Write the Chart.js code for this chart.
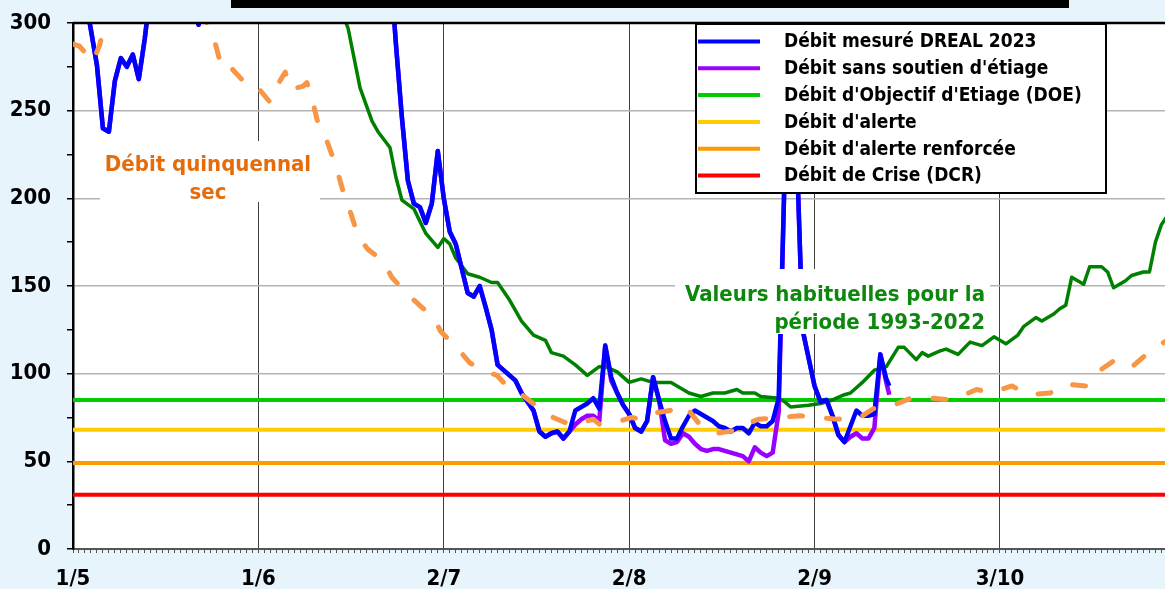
<!DOCTYPE html>
<html lang="fr">
<head>
<meta charset="utf-8">
<title>Débits d'étiage 2023</title>
<script src="https://cdn.jsdelivr.net/npm/chart.js@4.4.1/dist/chart.umd.min.js"></script>
<style>
  html, body { margin: 0; padding: 0; background: #e8f4fc; }
  #graphique { display: block; }
</style>
</head>
<body>
<canvas id="graphique" width="1165" height="589"></canvas>
<script>
// axe des x : jours comptés depuis le 1er mai
const etiquettesMois = ['1/5', '1/6', '2/7', '2/8', '2/9', '3/10'];
const joursMois = [0, 31, 62, 93, 124, 155];

// seuils réglementaires (m3/s)
const seuilDOE = 85;
const seuilAlerte = 68;
const seuilAlerteRenforcee = 49;
const seuilCrise = 31;

// débit mesuré DREAL 2023 et débit reconstitué sans soutien d'étiage
const joursMesure = [0, 1, 2, 3, 4, 5, 6, 7, 8, 9, 10, 11, 12, 13, 16, 19, 21, 23, 28, 35, 42, 48, 52, 53,
  54, 55, 56, 57, 58, 59, 60, 61, 62, 63, 64, 65, 66, 67, 68, 69, 70, 71, 72, 73, 74, 75, 76, 77, 78, 79,
  80, 81, 82, 83, 84, 85, 86, 87, 88, 89, 90, 91, 92, 93, 94, 95, 96, 97, 98, 99, 100, 101, 102, 103, 104,
  105, 106, 107, 108, 109, 110, 111, 112, 113, 114, 115, 116, 117, 118, 119, 120, 121, 122, 123, 124, 125,
  126, 127, 128, 129, 130, 131, 132, 133, 134, 135, 136, 136.5];
const debitMesure = [345, 330, 315, 296, 276, 240, 238, 267, 280, 275, 282, 268, 291, 320, 345, 318, 299, 335, 380, 420, 400, 370, 350, 335,
  288, 246, 210, 197, 195, 186, 197, 227, 200, 181, 174, 160, 146, 144, 150, 138, 125, 105, 102, 99, 96, 89, 84, 79, 67, 64,
  66, 67, 63, 67, 79, 81, 83, 86, 80, 116, 98, 89, 82, 77, 69, 67, 73, 98, 85, 73, 63, 63, 70, 76, 79,
  77, 75, 73, 70, 69, 67, 69, 69, 66, 72, 70, 70, 73, 86, 215, 280, 230, 125, 109, 93, 84,
  85, 76, 65, 61, 70, 79, 76, 76, 77, 111, 97, 93];
const debitSansSoutien = [345, 330, 315, 296, 276, 240, 238, 267, 280, 275, 282, 268, 291, 320, 345, 318, 299, 335, 380, 420, 400, 370, 350, 335,
  288, 246, 210, 197, 195, 186, 197, 227, 200, 181, 174, 160, 146, 144, 150, 138, 125, 105, 102, 99, 96, 89, 84, 79, 67, 64,
  66, 67, 63, 67, 71, 74, 76, 76, 73, 116, 96, 89, 82, 77, 69, 67, 73, 98, 85, 62, 60, 61, 66, 64, 60,
  57, 56, 57, 57, 56, 55, 54, 53, 50, 58, 55, 53, 55, 78, 215, 280, 230, 125, 109, 93, 84,
  85, 76, 65, 61, 64, 66, 63, 63, 69, 111, 95, 88];

// valeurs habituelles (période 1993-2022)
const joursMediane = [0, 10, 20, 30, 40, 44, 46, 48, 50, 51, 53, 54, 55, 57, 58, 59, 61, 62, 63, 64, 66, 68, 70, 71,
  73, 75, 77, 79, 80, 82, 84, 86, 88, 89, 91, 93, 95, 97, 100, 101, 103, 105, 107, 109, 110, 111, 112, 114,
  115, 118, 119, 120, 123, 125, 127, 129, 130, 132, 134, 136, 138, 139, 141, 142, 143, 145, 146, 148, 150,
  152, 154, 156, 158, 159, 161, 162, 164, 165, 166, 167, 169, 170, 172, 173, 174, 176, 177, 179, 180, 181, 182, 183];
const debitMediane = [520, 480, 430, 390, 340, 315, 297, 263, 244, 238, 229, 212, 199, 194, 187, 180, 172, 177, 174, 166, 157, 155, 152, 152,
  142, 130, 122, 119, 112, 110, 105, 99, 104, 104, 101, 95, 97, 95, 95, 93, 89, 87, 89, 89, 90, 91, 89, 89,
  87, 86, 84, 81, 82, 83, 85, 88, 89, 95, 102, 104, 115, 115, 108, 112, 110, 113, 114, 111, 118,
  116, 121, 117, 122, 127, 132, 130, 134, 137, 139, 155, 151, 161, 161, 158, 149, 153, 156, 158, 158, 175, 185, 190];

// débit quinquennal sec
const joursQuinquennal = [0, 1, 3.4, 4.5, 6, 10, 15, 20, 22.4, 23.5, 24.6, 25.4, 26, 27.9, 29, 30.7, 32.9, 34.6, 35.5,
  36.3, 38.5, 39.1, 39.9, 40.8, 41.3, 42.1, 43.5, 44.5, 45.5, 46.5, 47.7, 49.3, 51.9, 53.3, 56, 58.3, 60.3,
  61.5, 64.4, 66.4, 69.2, 70.9, 72, 74.7, 77.3, 80.3, 83.1, 85, 87, 88.1, 89.8, 91.5, 93.4, 94.8, 96.2, 99.8,
  102.3, 104.8, 107.6, 109.5, 111.5, 113.2, 114.6, 118.2, 121.5, 124.9, 127.7, 131.6, 133.8, 137.2, 140.1,
  143.9, 147, 151.1, 153.5, 157, 159.7, 163.4, 166, 169.4, 170.9, 173.9, 176.8, 179.5, 182, 183];
const debitQuinquennal = [288, 287, 278, 288, 310, 330, 335, 315, 300, 292, 278, 274, 276, 269, 265, 264, 255, 267, 272,
  262, 264, 266, 258, 245, 240, 236, 223, 212, 200, 191, 178, 171, 164, 155, 145, 138, 132,
  124, 114, 106, 101, 99, 95, 89, 82, 75, 71, 72, 74, 71, 72, 73, 75, 74, 77, 79,
  82, 71, 66, 67, 68, 72, 74, 75, 76, 75, 74, 75, 80, 82, 86,
  86, 85, 91, 89, 93, 88, 89, 94, 93, 100, 107, 103, 111, 117, 119];

const police = "'DejaVu Sans Condensed', 'DejaVu Sans', sans-serif";
Chart.defaults.font.family = police;

function points(jours, valeurs) {
    return jours.map((j, i) => ({ x: j, y: valeurs[i] }));
}
function seuil(valeur) {
    return [{ x: 0, y: valeur }, { x: 183, y: valeur }];
}

// fond bleu clair et zone de tracé blanche
const fond = {
    id: 'fond',
    beforeDraw(chart) {
        const ctx = chart.ctx;
        const zone = chart.chartArea;
        ctx.save();
        ctx.fillStyle = '#e8f4fc';
        ctx.fillRect(0, 0, chart.width, chart.height);
        ctx.fillStyle = '#ffffff';
        ctx.fillRect(zone.left, zone.top, zone.right - zone.left, zone.bottom - zone.top);
        ctx.restore();
    }
};

// commentaires, légende et cadre dessinés par-dessus les courbes
const habillage = {
    id: 'habillage',
    afterDraw(chart) {
        const ctx = chart.ctx;
        const zone = chart.chartArea;
        ctx.save();

        // bas du cadre de titre (coupé)
        ctx.fillStyle = '#000';
        ctx.fillRect(231, 0, 838, 8);

        // commentaires sur fond blanc
        ctx.fillStyle = '#ffffff';
        ctx.fillRect(100, 141, 220, 61);
        ctx.fillRect(675, 269, 315, 65);
        ctx.textBaseline = 'alphabetic';
        ctx.font = 'bold 22px ' + police;
        ctx.fillStyle = '#e46c0a';
        ctx.textAlign = 'center';
        ctx.fillText('Débit quinquennal', 208, 171);
        ctx.fillText('sec', 208, 199);
        ctx.fillStyle = '#0d870d';
        ctx.textAlign = 'right';
        ctx.fillText('Valeurs habituelles pour la', 985, 301);
        ctx.fillText('période 1993-2022', 985, 329);

        // légende
        const series = chart.data.datasets.filter(d => !d.horsLegende);
        ctx.fillStyle = '#ffffff';
        ctx.fillRect(695, 23, 412, 170);
        ctx.strokeStyle = '#000';
        ctx.lineWidth = 2;
        ctx.strokeRect(696, 24, 410, 169);
        ctx.font = 'bold 19px ' + police;
        ctx.textAlign = 'left';
        ctx.textBaseline = 'middle';
        series.forEach((d, i) => {
            const y = 41.5 + i * 26.8;
            ctx.strokeStyle = d.borderColor;
            ctx.lineWidth = 4;
            ctx.beginPath();
            ctx.moveTo(698, y);
            ctx.lineTo(760, y);
            ctx.stroke();
            ctx.fillStyle = '#000';
            ctx.fillText(d.label, 784, y + 1);
        });

        // bord haut de la zone de tracé
        ctx.strokeStyle = '#000';
        ctx.lineWidth = 2.5;
        ctx.beginPath();
        ctx.moveTo(zone.left, zone.top);
        ctx.lineTo(zone.right, zone.top);
        ctx.stroke();
        ctx.restore();
    }
};

const ctx = document.getElementById('graphique').getContext('2d');
const chart = new Chart(ctx, {
    type: 'line',
    data: {
        datasets: [
            {
                label: 'Débit mesuré DREAL 2023',
                data: points(joursMesure, debitMesure),
                borderColor: '#0000ff',
                borderWidth: 4.5,
                order: 1
            },
            {
                label: "Débit sans soutien d'étiage",
                data: points(joursMesure, debitSansSoutien),
                borderColor: '#9900ff',
                borderWidth: 4.5,
                order: 2
            },
            {
                label: "Débit d'Objectif d'Etiage (DOE)",
                data: seuil(seuilDOE),
                borderColor: '#00cc00',
                borderWidth: 4,
                order: 4
            },
            {
                label: "Débit d'alerte",
                data: seuil(seuilAlerte),
                borderColor: '#ffcc00',
                borderWidth: 4,
                order: 5
            },
            {
                label: "Débit d'alerte renforcée",
                data: seuil(seuilAlerteRenforcee),
                borderColor: '#ff9900',
                borderWidth: 4,
                order: 6
            },
            {
                label: 'Débit de Crise (DCR)',
                data: seuil(seuilCrise),
                borderColor: '#ff0000',
                borderWidth: 4,
                order: 7
            },
            {
                label: 'Valeurs habituelles 1993-2022',
                data: points(joursMediane, debitMediane),
                borderColor: '#008000',
                borderWidth: 3.5,
                order: 3,
                horsLegende: true
            },
            {
                label: 'Débit quinquennal sec',
                data: points(joursQuinquennal, debitQuinquennal),
                borderColor: '#f79646',
                borderWidth: 5,
                borderDash: [13, 24],
                borderCapStyle: 'round',
                order: 0,
                horsLegende: true
            }
        ]
    },
    options: {
        responsive: false,
        animation: false,
        events: [],
        layout: { padding: { top: 23, right: 0, bottom: 0, left: 0 } },
        elements: {
            point: { radius: 0 },
            line: { tension: 0, borderJoinStyle: 'round', fill: false }
        },
        datasets: { line: { clip: 0 } },
        plugins: {
            legend: { display: false },
            tooltip: { enabled: false }
        },
        scales: {
            x: {
                type: 'linear',
                min: 0,
                max: 182.6,
                afterBuildTicks: axe => {
                    axe.ticks = Array.from({ length: 183 }, (_, j) => ({ value: j }));
                },
                afterFit: axe => {
                    axe.height = 40;
                    axe.paddingLeft = 0;
                    axe.paddingRight = 0;
                },
                ticks: {
                    autoSkip: false,
                    maxRotation: 0,
                    padding: 13,
                    color: '#000',
                    font: { size: 22, weight: 'bold' },
                    callback: v => {
                        const i = joursMois.indexOf(v);
                        return i >= 0 ? etiquettesMois[i] : '';
                    }
                },
                grid: {
                    color: c => (c.tick && joursMois.includes(c.tick.value)) ? '#404040' : 'rgba(0,0,0,0)',
                    tickColor: '#555',
                    tickLength: 4,
                    lineWidth: 1
                },
                border: { color: '#555', width: 2 }
            },
            y: {
                min: 0,
                max: 300,
                afterFit: axe => {
                    axe.width = 73;
                    axe.paddingTop = 0;
                    axe.paddingBottom = 0;
                },
                ticks: {
                    stepSize: 25,
                    padding: 16,
                    color: '#000',
                    font: { size: 22, weight: 'bold' },
                    callback: v => (v % 50 === 0 ? v : '')
                },
                grid: {
                    color: c => (c.tick && c.tick.value % 50 === 0 && c.tick.value > 0 && c.tick.value < 300) ? '#b4b4b4' : 'rgba(0,0,0,0)',
                    tickColor: '#000',
                    tickLength: 6,
                    lineWidth: 1.5
                },
                border: { color: '#000', width: 2.5 }
            }
        }
    },
    plugins: [fond, habillage]
});
</script>
</body>
</html>
